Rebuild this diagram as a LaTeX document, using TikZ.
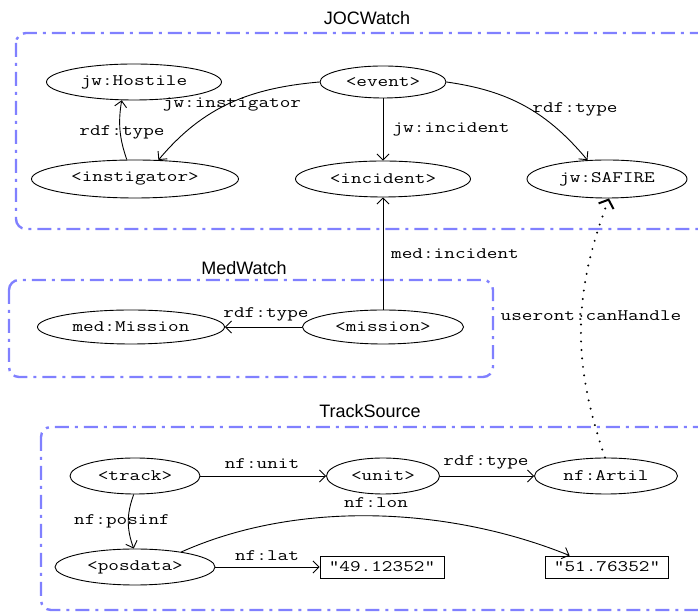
\documentclass[tikz,border=0pt]{standalone}
\usepackage{fontspec}
\setmainfont{Liberation Sans}
\newfontfamily\monof[FakeStretch=1.29]{Latin Modern Mono}
\usetikzlibrary{arrows.meta,shapes.geometric}
\definecolor{grpblue}{RGB}{128,128,255}
\tikzset{
  res/.style={ellipse, draw, line width=0.9pt, inner sep=0pt, font=\monof\fontsize{16}{18}\selectfont},
  lit/.style={rectangle, draw, line width=0.9pt, inner sep=0pt, minimum height=22pt, font=\monof\fontsize{16}{18}\selectfont},
  lbl/.style={inner sep=0pt, font=\monof\fontsize{16}{18}\selectfont},
  ttl/.style={inner sep=0pt, font=\fontsize{18}{20}\selectfont},
  grp/.style={draw=grpblue, line width=2.4pt, rounded corners=10pt, dash pattern=on 14pt off 6pt on 3pt off 6pt},
  rel/.style={line width=0.9pt, -{Straight Barb[length=6pt,width=12pt]}},
  maps/.style={line width=2.2pt, line cap=round, dash pattern=on 0pt off 8.5pt, -{Straight Barb[length=7pt,width=16pt,line width=2pt]}}
}
\begin{document}
\begin{tikzpicture}[x=1pt,y=1pt]
\useasboundingbox (0,0) rectangle (698,612);
% groups
\draw[grp] (16,579) rectangle (712,383);
\draw[grp] (9,332) rectangle (493,235);
\draw[grp] (41,185) rectangle (710,2);
\node[ttl] (tjoc) at (367,594) {JOCWatch};
\node[ttl] (tmed) at (244,344) {MedWatch};
\node[ttl] (ttrk) at (370,201) {TrackSource};
% JOCWatch nodes
\node[res, minimum width=175pt, minimum height=36pt] (host) at (134,530) {jw:Hostile};
\node[res, minimum width=126pt, minimum height=32pt] (event) at (383,530) {<event>};
\node[res, minimum width=207pt, minimum height=38pt] (instig) at (135,433) {<instigator>};
\node[res, minimum width=175pt, minimum height=36pt] (incident) at (383,433) {<incident>};
\node[res, minimum width=160pt, minimum height=38pt] (safire) at (607,433) {jw:SAFIRE};
% MedWatch nodes
\node[res, minimum width=187pt, minimum height=34pt] (mmission) at (131,285) {med:Mission};
\node[res, minimum width=161pt, minimum height=34pt] (mission) at (383,285) {<mission>};
% TrackSource nodes
\node[res, minimum width=130pt, minimum height=36pt] (track) at (135,136) {<track>};
\node[res, minimum width=113pt, minimum height=36pt] (unit) at (383,136) {<unit>};
\node[res, minimum width=143pt, minimum height=36pt] (artil) at (606,136) {nf:Artil};
\node[res, minimum width=160pt, minimum height=36pt] (posdata) at (135,45) {<posdata>};
\node[lit, minimum width=124pt] (lat) at (382,45) {“49.12352”};
\node[lit, minimum width=123pt] (lon) at (607,45) {“51.76352”};
% edges
\draw[rel] (event.west) to[out=185,in=50] (instig.39);
\node[lbl] (linst) at (232,507) {jw:instigator};
\draw[rel] (instig.113) to[bend left=14] (host.236);
\node[lbl] (lhost) at (122,480) {rdf:type};
\draw[rel] (event.south) -- (incident.north);
\node[lbl] (linc) at (451,483) {jw:incident};
\draw[rel] (event.east) to[out=-8,in=130] (safire.136);
\node[lbl] (lsaf) at (575,503) {rdf:type};
\draw[rel] (mission.north) -- (incident.south);
\node[lbl] (lmedinc) at (455,358) {med:incident};
\draw[rel] (mission.west) -- (mmission.east);
\node[lbl] (lmedt) at (266,298) {rdf:type};
\draw[maps] (artil.93) to[bend left=20] (safire.-84);
\node[lbl] (lcan) at (591,296) {useront:canHandle};
\draw[rel] (track.east) -- (unit.west);
\node[lbl] (lunit) at (262,148) {nf:unit};
\draw[rel] (unit.east) -- (artil.west);
\node[lbl] (lart) at (486,150) {rdf:type};
\draw[rel] (track.266) to[bend right=20] (posdata.94);
\node[lbl] (lpos) at (122,91) {nf:posinf};
\draw[rel] (posdata.east) -- (lat.west);
\node[lbl] (llat) at (267,56) {nf:lat};
\draw[rel] (posdata.18) to[out=24,in=158,looseness=0.85] (lon.163);
\node[lbl] (llon) at (376,109) {nf:lon};
\end{tikzpicture}
\end{document}
